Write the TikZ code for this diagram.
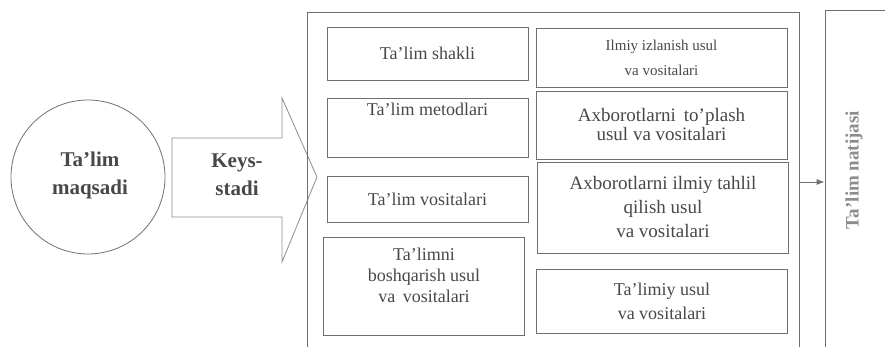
\documentclass[tikz,border=0pt]{standalone}
\usepackage{fontspec}
\setmainfont{Liberation Serif}
\definecolor{LineGray}{RGB}{112,112,112}
\definecolor{TextGray}{RGB}{72,72,72}
\definecolor{FaintGray}{RGB}{140,140,140}
\usetikzlibrary{positioning,arrows.meta,calc}

\begin{document}
\begin{tikzpicture}[x=1pt, y=-1pt,
      every node/.style={align=center, text=TextGray},
      box/.style      ={draw=LineGray, line width=0.8pt, inner sep=3pt, minimum width=201pt,
                        font=\fontsize{18}{21}\selectfont},
      ubox/.style     ={box, minimum width=251pt, font=\fontsize{19}{22}\selectfont},
      goalc/.style    ={draw=LineGray, line width=0.8pt, circle, minimum size=154pt,
                        font=\bfseries\fontsize{21}{28}\selectfont},
      blockarr/.style ={draw=LineGray!80, line width=0.8pt},
      frame/.style    ={draw=LineGray, line width=0.8pt, minimum width=492pt, minimum height=356pt},
      lbl/.style      ={font=\bfseries\fontsize{21}{28}\selectfont},
      arr/.style      ={-{Latex[length=8pt,width=6pt]}, line width=0.8pt, draw=LineGray},
  ]
  \useasboundingbox (0,0) rectangle (885,347);
  \clip (0,0) rectangle (885,347);

  % - Goal circle -
  \node[goalc] (goal) at (88,177) {};
  \node[lbl]   (goaltxt) at (90,175) {Ta'lim\\maqsadi};

  % - Case-study block arrow -
  \draw[blockarr] (172,138) -- (282,138) -- (282,98) -- (317,177)
                  -- (282,262) -- (282,217) -- (172,217) -- cycle;
  \node[lbl] (keys) at (237,175) {Keys-\\stadi};

  % - Methods frame (open at the bottom of the page) -
  \node[frame] (frame) at (553,190) {};

  % - Left column -
  \node[box, minimum height=53pt]                  (m1) at (427.5,53.5) {Ta'lim shakli};
  \node[box, minimum height=59pt, text depth=36pt] (m2) at (427.5,127.5) {Ta'lim metodlari};
  \node[box, minimum height=46pt]                  (m3) at (427.5,199) {Ta'lim vositalari};
  \node[box, minimum height=98pt, text depth=22pt] (m4) at (424,286)
        {Ta'limni\\boshqarish usul\\va\, vositalari};

  % - Right column -
  \node[ubox, minimum height=59pt, font=\fontsize{15}{25}\selectfont]
        (u1) at (661.5,57.5) {Ilmiy izlanish usul\\va vositalari};
  \node[ubox, minimum height=68pt, font=\fontsize{19}{19}\selectfont]
        (u2) at (661.5,125) {Axborotlarni\, to'plash\\usul va vositalari};
  \node[ubox, minimum height=91pt, font=\fontsize{19}{24}\selectfont]
        (u3) at (663,207.5) {Axborotlarni ilmiy tahlil\\qilish usul\\va vositalari};
  \node[ubox, minimum height=64pt, font=\fontsize{18}{24}\selectfont]
        (u4) at (662,301) {Ta'limiy usul\\va vositalari};

  % - Result box -
  \node[frame, minimum width=80pt, minimum height=360pt] (result) at (865,190) {};
  \node[lbl, rotate=90, text=FaintGray, font=\bfseries\fontsize{19}{22}\selectfont]
        (resulttxt) at (854,170) {Ta'lim natijasi};

  % - Frame -> result -
  \coordinate (tap) at (frame.east |- 0,182);
  \draw[arr] (tap) -- (tap -| result.west);
\end{tikzpicture}
\end{document}
